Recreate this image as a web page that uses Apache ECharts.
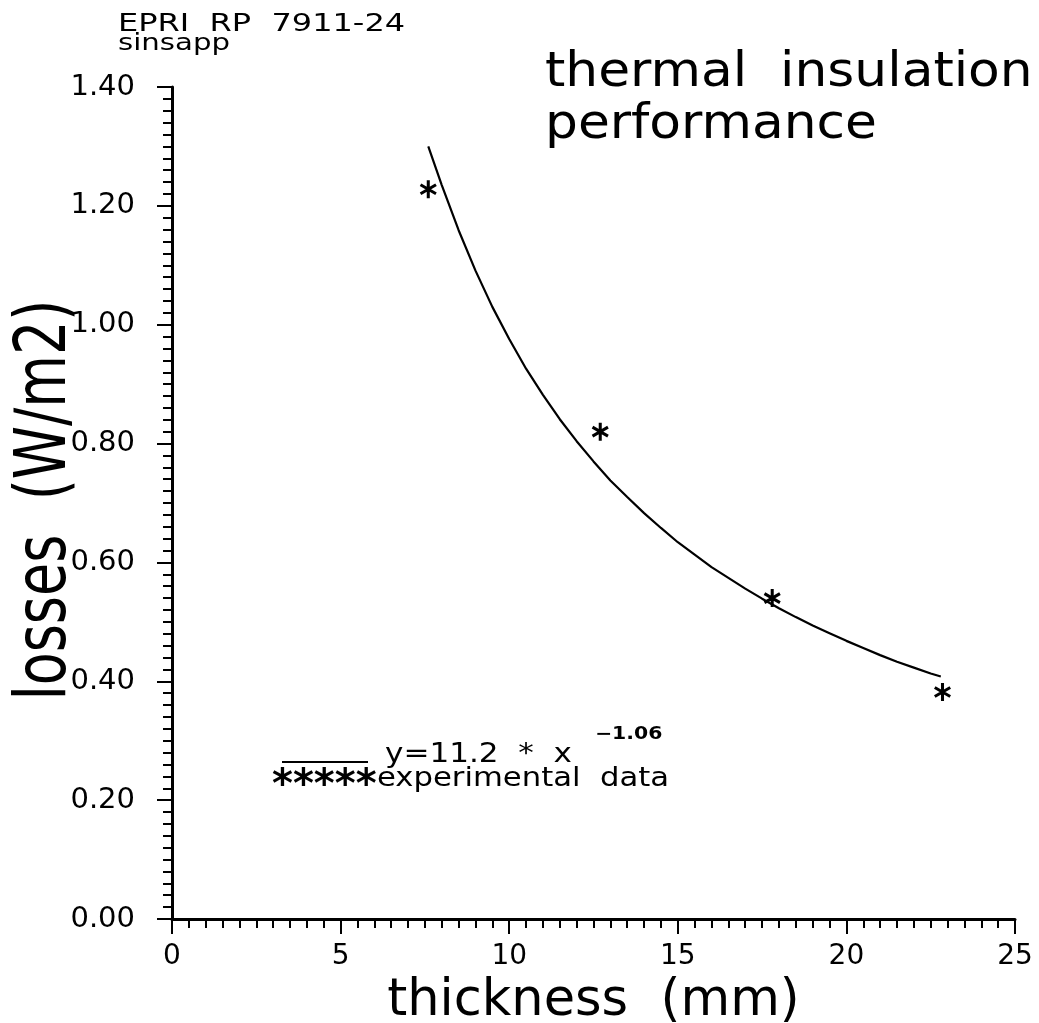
<!DOCTYPE html>
<html>
<head>
<meta charset="utf-8">
<script src="https://cdn.jsdelivr.net/npm/echarts@6/dist/echarts.min.js"></script>
<style>html,body{margin:0;padding:0;background:#fff}#c{width:1039px;height:1023px}</style>
</head>
<body>
<div id="c"></div>
<script>
// Fitted curve y = 11.2 * x^-1.06
const curveX = [7.6, 8, 8.5, 9, 9.5, 10, 10.5, 11, 11.5, 12, 12.5, 13, 13.5, 14, 14.5, 15, 15.5, 16, 16.5, 17, 17.5, 18, 18.5, 19, 19.5, 20, 20.5, 21, 21.5, 22, 22.5, 22.8];
const curveY = [1.300, 1.235, 1.159, 1.091, 1.030, 0.976, 0.926, 0.882, 0.841, 0.804, 0.770, 0.738, 0.710, 0.683, 0.658, 0.634, 0.613, 0.592, 0.574, 0.556, 0.539, 0.523, 0.508, 0.494, 0.481, 0.468, 0.456, 0.444, 0.433, 0.423, 0.413, 0.408];
// Experimental data (asterisks)
const expX = [7.6, 12.7, 17.8, 22.85];
const expY = [1.228, 0.82, 0.54, 0.382];
const xTicks = [0, 5, 10, 15, 20, 25];
const yTicks = [0.00, 0.20, 0.40, 0.60, 0.80, 1.00, 1.20, 1.40];

const FONT = 'DejaVu Sans';
const star = 'path://M-1.7,-10L1.7,-10L1.7,10L-1.7,10Z' +
  'M9.51,3.53L7.81,6.47L-9.51,-3.53L-7.81,-6.47Z' +
  'M7.81,-6.47L9.51,-3.53L-7.81,6.47L-9.51,3.53Z';

const chart = echarts.init(document.getElementById('c'));
chart.setOption({
  animation: false,
  backgroundColor: '#fff',
  grid: {left: 172, right: 24, top: 87, bottom: 104, containLabel: false, outerBoundsMode: 'none'},
  xAxis: {
    type: 'value', min: xTicks[0], max: xTicks[xTicks.length - 1], interval: 5,
    name: 'thickness  (mm)', nameLocation: 'middle', nameGap: 53,
    nameTextStyle: {fontFamily: FONT, fontSize: 51, color: '#000'},
    axisLine: {onZero: false, lineStyle: {color: '#000', width: 3}},
    axisTick: {show: true, inside: false, length: 15, lineStyle: {color: '#000', width: 2}},
    minorTick: {show: true, splitNumber: 10, length: 9, lineStyle: {color: '#000', width: 2}},
    splitLine: {show: false},
    axisLabel: {fontFamily: FONT, fontSize: 28, color: '#000', margin: 24,
      formatter: v => String(v)}
  },
  yAxis: {
    type: 'value', min: yTicks[0], max: yTicks[yTicks.length - 1], interval: 0.2,
    axisLine: {show: true, onZero: false, lineStyle: {color: '#000', width: 3}},
    axisTick: {show: true, inside: false, length: 15, lineStyle: {color: '#000', width: 2}},
    minorTick: {show: true, splitNumber: 10, length: 9, lineStyle: {color: '#000', width: 2}},
    splitLine: {show: false},
    axisLabel: {fontFamily: FONT, fontSize: 29, color: '#000', margin: 37,
      formatter: v => v.toFixed(2)}
  },
  series: [
    {
      type: 'line', data: curveX.map((x, i) => [x, curveY[i]]),
      smooth: false, showSymbol: false, lineStyle: {color: '#000', width: 2.2}
    },
    {
      type: 'scatter', data: expX.map((x, i) => [x, expY[i]]),
      symbol: star, symbolSize: [17, 18], itemStyle: {color: '#000', opacity: 1}
    }
  ],
  graphic: [
    {type: 'text', x: 46, y: 500, rotation: Math.PI / 2, scaleY: 1.32,
      style: {text: 'losses  (W/m2)', font: '54px "DejaVu Sans"', fill: '#000', align: 'center', verticalAlign: 'middle'}},
    {type: 'text', left: 118, top: 12, scaleX: 1.28, style: {text: 'EPRI  RP  7911-24', font: '25px "DejaVu Sans"', fill: '#000'}},
    {type: 'text', left: 118, top: 33, scaleX: 1.27, style: {text: 'sinsapp', font: '23px "DejaVu Sans"', fill: '#000'}},
    {type: 'text', left: 545, top: 50, scaleX: 1.08, style: {text: 'thermal  insulation', font: '48px "DejaVu Sans"', fill: '#000'}},
    {type: 'text', left: 545, top: 102, scaleX: 1.08, style: {text: 'performance', font: '48px "DejaVu Sans"', fill: '#000'}},
    {type: 'line', shape: {x1: 282, y1: 762, x2: 368, y2: 762}, style: {stroke: '#000', lineWidth: 2}},
    {type: 'text', left: 385, top: 741, scaleX: 1.15, style: {text: 'y=11.2  *  x', font: '27px "DejaVu Sans"', fill: '#000'}},
    {type: 'text', left: 595, top: 726, scaleX: 1.2, style: {text: '\u22121.06', font: 'bold 17px "DejaVu Sans"', fill: '#000'}},
    {type: 'text', left: 272, top: 767, scaleX: 1.0, style: {text: '*****', font: 'bold 40px "DejaVu Sans"', fill: '#000'}},
    {type: 'text', left: 377, top: 766, scaleX: 1.18, style: {text: 'experimental  data', font: '26px "DejaVu Sans"', fill: '#000'}}
  ]
});
</script>
</body>
</html>
